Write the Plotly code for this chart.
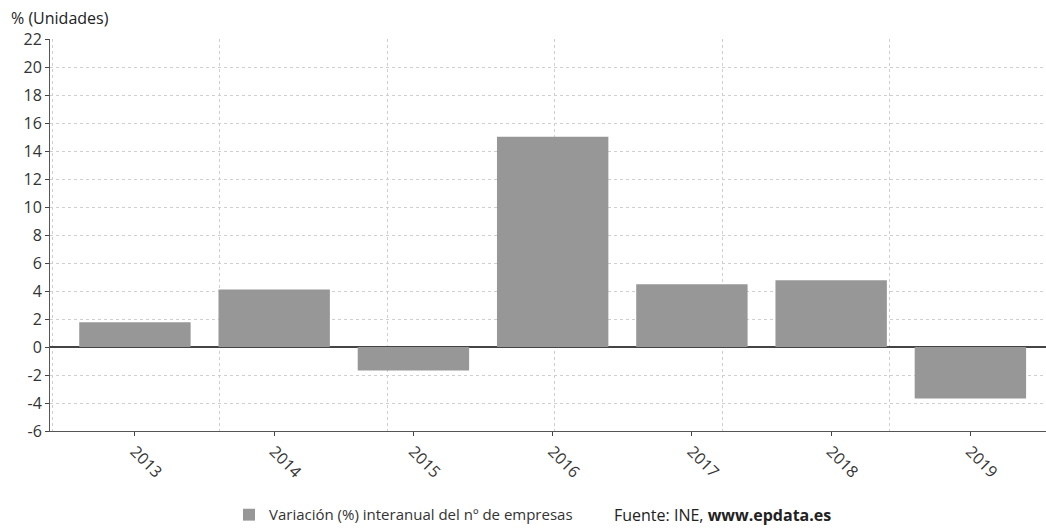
import plotly.graph_objects as go

years = ["2013", "2014", "2015", "2016", "2017", "2018", "2019"]
values = [1.77, 4.11, -1.68, 15.01, 4.49, 4.77, -3.68]
series_name = "Variación (%) interanual del nº de empresas"
y_ticks = list(range(-6, 23, 2))
y_tick_text = [str(v) for v in y_ticks]

FONT = "Open Sans, Noto Sans, sans-serif"
GRID = "#cfcfcf"

fig = go.Figure()
fig.add_trace(go.Bar(
    x=years, y=values, name=series_name,
    marker=dict(color="#979797", line=dict(width=0)),
    width=0.8, showlegend=True,
))
# helper axis used only for the vertical grid lines
fig.add_trace(go.Scatter(x=[], y=[], xaxis="x2", showlegend=False, hoverinfo="skip"))

fig.update_layout(
    width=1046, height=528,
    margin=dict(l=50, r=0, t=39, b=97, autoexpand=False),
    plot_bgcolor="white", paper_bgcolor="white",
    font=dict(family=FONT, color="#333333", size=16),
    bargap=0.2,
    xaxis=dict(
        type="category", range=[-0.61, 6.543],
        showgrid=False, tickangle=45,
        ticks="outside", ticklen=4, tickcolor="#444",
        showline=True, linecolor="#555", linewidth=1,
        tickfont=dict(size=16, color="#333"),
        zeroline=False,
    ),
    xaxis2=dict(
        overlaying="x", range=[-0.015, 5.935], dtick=1, tick0=0,
        showticklabels=False, showgrid=True, gridcolor=GRID, griddash="dot",
        gridwidth=1, zeroline=False, showline=False, ticks="",
    ),
    yaxis=dict(
        range=[-6, 22], tickvals=y_ticks, ticktext=y_tick_text,
        showgrid=True, gridcolor=GRID, griddash="dot", gridwidth=1,
        zeroline=True, zerolinecolor="#444", zerolinewidth=2,
        showline=True, linecolor="#555", linewidth=1,
        ticks="outside", ticklen=4, tickcolor="#444",
        tickfont=dict(size=16, color="#333"),
    ),
    legend=dict(
        orientation="h", x=(229-50)/996, y=-0.214, xanchor="left", yanchor="middle",
        font=dict(size=15, color="#333"),
        bgcolor="rgba(0,0,0,0)",
    ),
    annotations=[
        dict(text="% (Unidades)", xref="paper", yref="paper",
             x=-41/996, y=1 + 21/392, xanchor="left", yanchor="middle",
             showarrow=False, font=dict(size=16, color="#222")),
        dict(text="Fuente: INE, <b>www.epdata.es</b>", xref="paper", yref="paper",
             x=(612-50)/996, y=-0.214, xanchor="left", yanchor="middle",
             showarrow=False, font=dict(size=16, color="#222")),
    ],
)

fig.write_html(
    "out.html",
    config={"displayModeBar": False},
    post_script="document.body.style.margin='0';document.body.style.overflow='hidden';",
)
